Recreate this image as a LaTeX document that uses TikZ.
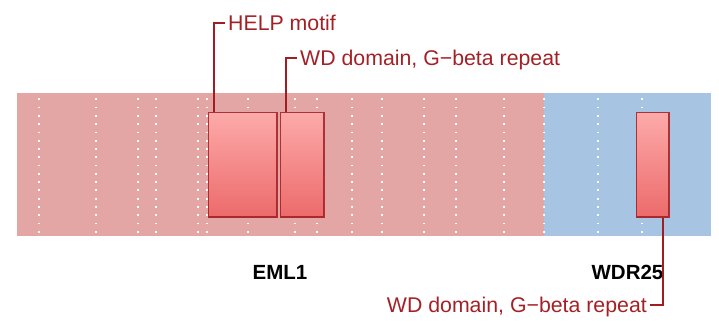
\documentclass[tikz,border=0pt]{standalone}
\usepackage{fontspec}
\setmainfont{Liberation Sans}
\definecolor{bandred}{RGB}{228,165,165}
\definecolor{bandblue}{RGB}{168,196,227}
\definecolor{boxtop}{RGB}{253,170,170}
\definecolor{boxbot}{RGB}{236,106,106}
\definecolor{boxedge}{RGB}{160,30,35}
\definecolor{labred}{RGB}{163,33,38}
\begin{document}
\begin{tikzpicture}[x=1pt,y=-1pt,
  band/.style={fill=#1,draw=none},
  gridline/.style={draw=white,line width=1.8pt,dash pattern=on 1.8pt off 6.48pt},
  domainbox/.style={rectangle,inner sep=0pt,anchor=north west,draw=boxedge,draw opacity=0.85,line width=1.8pt,top color=boxtop,bottom color=boxbot},
  conn/.style={draw=boxedge,line width=1.8pt},
  featlab/.style={text=labred,font=\fontsize{21.3}{25}\selectfont,inner xsep=3.2pt,inner ysep=0pt,text height=15.3pt,text depth=0pt},
  genelab/.style={anchor=base,font=\fontsize{20.5}{24}\selectfont\bfseries,inner sep=0pt}]
\useasboundingbox (0,0) rectangle (719,326);
\fill[bandred] (17,93) rectangle (544,236);
\fill[bandblue] (544,93) rectangle (711,236);
\foreach \x in {38.7,96,137.7,155.7,198,207,247.7,294.7,316.7,351.7,382,424.3,456,504.3,543.7,597.7,641.7}
  \draw[gridline] (\x,98.4) -- (\x,236);
\node[domainbox,minimum width=68.5pt,minimum height=104.8pt] (b1) at (207.6,111.6) {};
\node[domainbox,minimum width=43.2pt,minimum height=104.8pt] (b2) at (279.6,111.6) {};
\node[domainbox,minimum width=32.2pt,minimum height=104.8pt] (b3) at (635.6,111.6) {};
\node[genelab] (g1) at (280,279.3) {EML1};
\node[genelab] (g2) at (627.5,279.3) {WDR25};
\node[featlab,anchor=west] (l1) at (224.8,22.7) {HELP motif};
\node[featlab,anchor=west] (l2) at (296.8,58.3) {WD domain, G−beta repeat};
\node[featlab,anchor=east] (l3) at (650.2,305) {WD domain, G−beta repeat};
\draw[conn] ([xshift=6.4pt]b1.north west) |- (l1.west);
\draw[conn] ([xshift=6.4pt]b2.north west) |- (l2.west);
\draw[conn] ([xshift=-6.3pt]b3.south east) |- (l3.east);
\end{tikzpicture}
\end{document}
